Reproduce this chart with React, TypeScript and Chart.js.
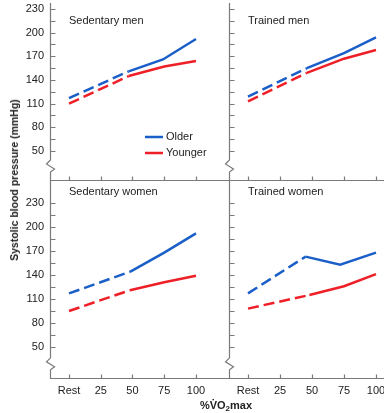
import React, { useEffect, useRef } from "react";
import { Chart, registerables } from "chart.js";

Chart.register(...registerables);

// ---- tick data ----
const xTickValues = [0, 25, 50, 75, 100];
const xTickLabels = ["Rest", "25", "50", "75", "100"];
const yTickValues = [50, 65, 80, 95, 110, 125, 140, 155, 170, 185, 200, 215, 230];
const yLabelValues = [50, 80, 110, 140, 170, 200, 230];

// ---- series data (x = %VO2max, Rest = 0) ----
const sedMenOlderX = [0, 47, 74, 100];
const sedMenOlder = [117, 151, 166, 192];
const sedMenYoungerX = [0, 47, 75, 100];
const sedMenYounger = [110, 145, 157, 164];

const trMenOlderX = [0, 46, 75, 100];
const trMenOlder = [119, 155, 174, 194];
const trMenYoungerX = [0, 46, 75, 100];
const trMenYounger = [113, 149, 167, 178];

const sedWomenOlderX = [0, 48, 75, 100];
const sedWomenOlder = [117, 144, 168, 192];
const sedWomenYoungerX = [0, 48, 75, 100];
const sedWomenYounger = [95, 121, 131, 139];

const trWomenOlderX = [0, 45, 72, 100];
const trWomenOlder = [117, 163, 153, 168];
const trWomenYoungerX = [0, 48, 75, 100];
const trWomenYounger = [98, 115, 126, 141];

const BLUE = "#1a5ec8";
const RED = "#ee1f26";
const AXIS = "#7a7a7a";
const TEXT = "#222222";
const FONT = "'Liberation Sans', Arial, Helvetica, sans-serif";

type PanelCfg = {
  title: string;
  olderX: number[];
  older: number[];
  youngerX: number[];
  younger: number[];
  pad: { left: number; right: number; top: number; bottom: number };
  xMin: number;
  xMax: number;
  yMin: number;
  yMax: number;
  showX: boolean;
  showY: boolean;
  breakAt: number;
  titleDy: number;
  legend: boolean;
};

const framePlugin = {
  id: "frame",
  afterDraw(chart: any) {
    const { ctx, chartArea, scales } = chart;
    const { left, right, top, bottom } = chartArea;
    const x = scales.x;
    const y = scales.y;
    const p = chart.options.plugins.frame as PanelCfg;
    ctx.save();
    ctx.strokeStyle = AXIS;
    ctx.lineWidth = 1.2;
    const ax = Math.round(left) + 0.5;
    const bx = Math.round(bottom) + 0.5;
    const by = y.getPixelForValue(p.breakAt);
    // y axis with break
    ctx.beginPath();
    ctx.moveTo(ax, top);
    ctx.lineTo(ax, by - 6);
    ctx.lineTo(ax - 4, by - 2);
    ctx.lineTo(ax + 4, by + 3);
    ctx.lineTo(ax, by + 6);
    ctx.lineTo(ax, bx);
    ctx.stroke();
    // x axis
    ctx.beginPath();
    ctx.moveTo(left, bx);
    ctx.lineTo(right, bx);
    ctx.stroke();
    // y ticks (inward)
    ctx.beginPath();
    for (const v of yTickValues) {
      const py = Math.round(y.getPixelForValue(v)) + 0.5;
      ctx.moveTo(ax, py);
      ctx.lineTo(ax + 5, py);
    }
    // x ticks (inward)
    for (const v of xTickValues) {
      const px = Math.round(x.getPixelForValue(v)) + 0.5;
      ctx.moveTo(px, bx);
      ctx.lineTo(px, bx - 4);
    }
    ctx.stroke();
    // panel title
    ctx.fillStyle = TEXT;
    ctx.font = `11px ${FONT}`;
    ctx.textBaseline = "middle";
    ctx.textAlign = "left";
    ctx.fillText(p.title, left + 19, top + p.titleDy);
    // legend
    if (p.legend) {
      const items = [
        { label: "Older", color: BLUE, ly: 137 },
        { label: "Younger", color: RED, ly: 153 },
      ];
      for (const it of items) {
        ctx.strokeStyle = it.color;
        ctx.lineWidth = 2.5;
        ctx.beginPath();
        ctx.moveTo(145, it.ly);
        ctx.lineTo(163, it.ly);
        ctx.stroke();
        ctx.fillStyle = TEXT;
        ctx.fillText(it.label, 166, it.ly);
      }
    }
    ctx.restore();
  },
};

function makeSeries(label: string, xs: number[], ys: number[], color: string) {
  return {
    label,
    data: xs.map((xv, i) => ({ x: xv, y: ys[i] })),
    borderColor: color,
    backgroundColor: color,
    borderWidth: 2.5,
    pointRadius: 0,
    tension: 0,
    fill: false,
    segment: {
      borderDash: (c: any) => (c.p0.parsed.x === 0 ? [11, 5] : undefined),
    },
  };
}

function Panel({ cfg }: { cfg: PanelCfg }) {
  const ref = useRef<HTMLCanvasElement>(null);
  useEffect(() => {
    const chart = new Chart(ref.current as HTMLCanvasElement, {
      type: "line",
      data: {
        datasets: [
          makeSeries("Older", cfg.olderX, cfg.older, BLUE),
          makeSeries("Younger", cfg.youngerX, cfg.younger, RED),
        ] as any,
      },
      options: {
        responsive: false,
        animation: false,
        layout: { padding: cfg.pad },
        plugins: {
          legend: { display: false },
          tooltip: { enabled: false },
          frame: cfg,
        } as any,
        scales: {
          x: {
            type: "linear",
            position: "bottom",
            min: cfg.xMin,
            max: cfg.xMax,
            display: cfg.showX,
            grid: { display: false, drawTicks: false },
            border: { display: false },
            ticks: {
              autoSkip: false,
              maxRotation: 0,
              padding: 6,
              color: TEXT,
              font: { family: FONT, size: 11 },
              callback: (v: any) => {
                const i = xTickValues.indexOf(Number(v));
                return i >= 0 ? xTickLabels[i] : "";
              },
            },
            afterBuildTicks: (s: any) => {
              s.ticks = xTickValues.map((v) => ({ value: v }));
            },
            afterFit: (s: any) => {
              s.height = cfg.showX ? 35 : 0;
              s.paddingLeft = 0;
              s.paddingRight = 0;
            },
          },
          y: {
            type: "linear",
            min: cfg.yMin,
            max: cfg.yMax,
            display: cfg.showY,
            grid: { display: false, drawTicks: false },
            border: { display: false },
            ticks: {
              autoSkip: false,
              padding: 6,
              color: TEXT,
              font: { family: FONT, size: 11 },
              callback: (v: any) => (yLabelValues.includes(Number(v)) ? String(v) : ""),
            },
            afterBuildTicks: (s: any) => {
              s.ticks = yTickValues.map((v) => ({ value: v }));
            },
            afterFit: (s: any) => {
              s.width = cfg.showY ? 50 : 0;
              s.paddingTop = 0;
              s.paddingBottom = 0;
            },
          },
        } as any,
      },
      plugins: [framePlugin],
    });
    return () => chart.destroy();
  }, []);
  return (
    <canvas
      ref={ref}
      width={384}
      height={413}
      style={{ position: "absolute", left: 0, top: 0, width: 384, height: 413 }}
    />
  );
}

// top panels: 230 at y=9, 50 at y=151, area y 3..180
const topY = { yMin: 13.24, yMax: 237.6 };
// bottom panels: 230 at y=203, 50 at y=347, area y 180..378
const botY = { yMin: 11.25, yMax: 258.75 };
// left panels: Rest at x=69, 100 at x=196, area x 50..229
const leftX = { xMin: -14.96, xMax: 126 };
// right panels: Rest at x=248, 100 at x=376, area x 229..384
const rightX = { xMin: -14.84, xMax: 106.25 };

const panels: PanelCfg[] = [
  {
    title: "Sedentary men",
    olderX: sedMenOlderX, older: sedMenOlder,
    youngerX: sedMenYoungerX, younger: sedMenYounger,
    pad: { left: 0, right: 155, top: 3, bottom: 233 },
    ...leftX, ...topY, showX: false, showY: true, breakAt: 31, titleDy: 18, legend: true,
  },
  {
    title: "Trained men",
    olderX: trMenOlderX, older: trMenOlder,
    youngerX: trMenYoungerX, younger: trMenYounger,
    pad: { left: 229, right: 0, top: 3, bottom: 233 },
    ...rightX, ...topY, showX: false, showY: false, breakAt: 31, titleDy: 18, legend: false,
  },
  {
    title: "Sedentary women",
    olderX: sedWomenOlderX, older: sedWomenOlder,
    youngerX: sedWomenYoungerX, younger: sedWomenYounger,
    pad: { left: 0, right: 155, top: 180, bottom: 0 },
    ...leftX, ...botY, showX: true, showY: true, breakAt: 29, titleDy: 12, legend: false,
  },
  {
    title: "Trained women",
    olderX: trWomenOlderX, older: trWomenOlder,
    youngerX: trWomenYoungerX, younger: trWomenYounger,
    pad: { left: 229, right: 0, top: 180, bottom: 0 },
    ...rightX, ...botY, showX: true, showY: false, breakAt: 29, titleDy: 12, legend: false,
  },
];

export default function App() {
  return (
    <div
      style={{
        position: "fixed",
        left: 0,
        top: 0,
        width: 384,
        height: 413,
        background: "#ffffff",
        overflow: "hidden",
        fontFamily: FONT,
        color: TEXT,
      }}
    >
      {panels.map((p) => (
        <Panel key={p.title} cfg={p} />
      ))}
      <div
        style={{
          position: "absolute",
          left: 14,
          top: 180,
          transform: "translate(-50%, -50%) rotate(-90deg)",
          whiteSpace: "nowrap",
          fontWeight: "bold",
          fontSize: "10.5px",
          lineHeight: "12px",
        }}
      >
        Systolic blood pressure (mmHg)
      </div>
      <div
        style={{
          position: "absolute",
          left: 176,
          top: 398,
          width: 100,
          textAlign: "center",
          fontWeight: "bold",
          fontSize: "11px",
          lineHeight: "14px",
          whiteSpace: "nowrap",
        }}
      >
        %V̇O<sub style={{ fontSize: "8px", verticalAlign: "baseline", position: "relative", top: "2px" }}>2</sub>max
      </div>
    </div>
  );
}
